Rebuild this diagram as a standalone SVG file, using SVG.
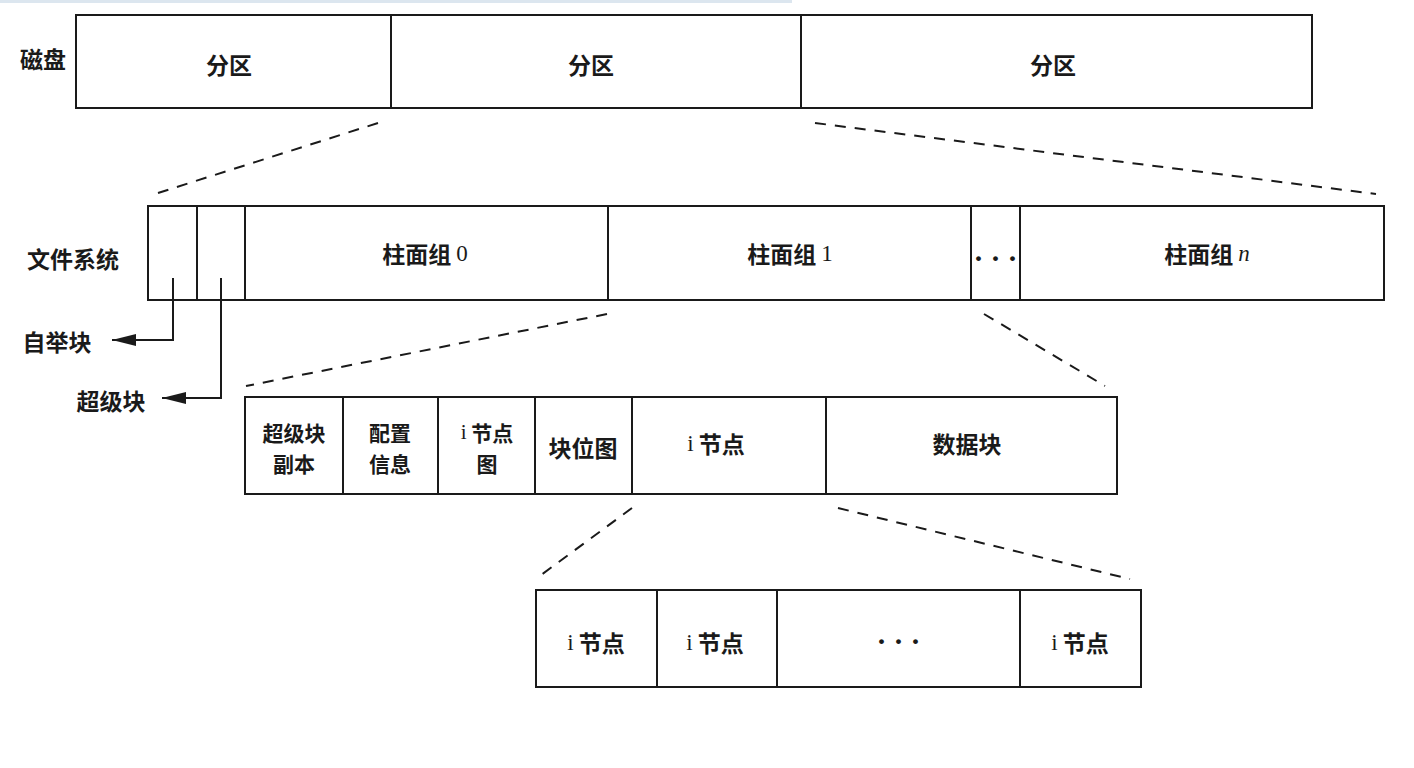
<svg xmlns="http://www.w3.org/2000/svg" width="1414" height="768" viewBox="0 0 1414 768">
<style>
.box{fill:#fff;stroke:#1a1a1a;stroke-width:2}
.div{stroke:#1a1a1a;stroke-width:2}
.dash{stroke:#1a1a1a;stroke-width:2;stroke-dasharray:11 9;fill:none}
.lead{stroke:#1a1a1a;stroke-width:2;fill:none}
.t{font-family:"Noto Sans CJK SC","Noto Sans",sans-serif;font-weight:bold;font-size:23px;fill:#1a1a1a;text-anchor:middle;dominant-baseline:central}
.t2{font-size:21px}
.s{font-family:"Liberation Serif",serif;font-weight:normal}
.dots{font-family:"Liberation Serif",serif;font-weight:bold;font-size:30px;letter-spacing:7px;fill:#1a1a1a;text-anchor:middle;dominant-baseline:central}
</style>
<defs>
<marker id="arr" viewBox="0 0 24 12" refX="24" refY="6" markerWidth="24" markerHeight="12" markerUnits="userSpaceOnUse" orient="auto">
<path d="M0,0 L24,6 L0,12 Z" fill="#1a1a1a"/>
</marker>
</defs>
<rect x="0" y="0" width="792" height="3" fill="#dce6ef"/>

<g id="disk">
<text class="t" x="43" y="58">磁盘</text>
<rect class="box" x="76" y="15" width="1236" height="93"/>
<line class="div" x1="391" y1="15" x2="391" y2="108"/>
<line class="div" x1="801" y1="15" x2="801" y2="108"/>
<text class="t" x="229" y="64">分区</text>
<text class="t" x="591" y="64">分区</text>
<text class="t" x="1053" y="64">分区</text>
</g>

<g id="filesystem">
<text class="t" x="73" y="258">文件系统</text>
<rect class="box" x="148" y="206" width="1236" height="94"/>
<line class="div" x1="197" y1="206" x2="197" y2="300"/>
<line class="div" x1="245" y1="206" x2="245" y2="300"/>
<line class="div" x1="608" y1="206" x2="608" y2="300"/>
<line class="div" x1="971" y1="206" x2="971" y2="300"/>
<line class="div" x1="1020" y1="206" x2="1020" y2="300"/>
<text class="t" x="425" y="253">柱面组 <tspan class="s">0</tspan></text>
<text class="t" x="790" y="253">柱面组 <tspan class="s">1</tspan></text>
<text class="dots" x="999" y="257">···</text>
<text class="t" x="1207" y="253">柱面组 <tspan class="s" font-style="italic">n</tspan></text>
</g>

<g id="bootblock">
<text class="t" x="57" y="341">自举块</text>
</g>
<g id="superblock">
<text class="t" x="111" y="400">超级块</text>
</g>

<g id="cylgroup">
<rect class="box" x="245" y="397" width="872" height="97"/>
<line class="div" x1="343" y1="397" x2="343" y2="494"/>
<line class="div" x1="438" y1="397" x2="438" y2="494"/>
<line class="div" x1="535" y1="397" x2="535" y2="494"/>
<line class="div" x1="632" y1="397" x2="632" y2="494"/>
<line class="div" x1="826" y1="397" x2="826" y2="494"/>
<text class="t t2" x="294" y="432">超级块</text>
<text class="t t2" x="294" y="463">副本</text>
<text class="t t2" x="390" y="432">配置</text>
<text class="t t2" x="390" y="463">信息</text>
<text class="t t2" x="487" y="432"><tspan class="s">i</tspan> 节点</text>
<text class="t t2" x="487" y="463">图</text>
<text class="t" x="583" y="447">块位图</text>
<text class="t" x="716" y="443"><tspan class="s">i</tspan> 节点</text>
<text class="t" x="967" y="443">数据块</text>
</g>

<g id="inodes">
<rect class="box" x="536" y="590" width="605" height="97"/>
<line class="div" x1="657" y1="590" x2="657" y2="687"/>
<line class="div" x1="777" y1="590" x2="777" y2="687"/>
<line class="div" x1="1020" y1="590" x2="1020" y2="687"/>
<text class="t" x="596" y="642"><tspan class="s">i</tspan> 节点</text>
<text class="t" x="715" y="642"><tspan class="s">i</tspan> 节点</text>
<text class="dots" x="902" y="640">···</text>
<text class="t" x="1080" y="642"><tspan class="s">i</tspan> 节点</text>
</g>

<g id="connectors">
<line class="dash" x1="378" y1="123" x2="158" y2="193"/>
<line class="dash" x1="815" y1="123" x2="1376" y2="194"/>
<line class="dash" x1="607" y1="314" x2="246" y2="386"/>
<line class="dash" x1="984" y1="314" x2="1105" y2="386"/>
<line class="dash" x1="632" y1="508" x2="537" y2="578"/>
<line class="dash" x1="838" y1="508" x2="1130" y2="579"/>
<polyline class="lead" points="173,278 173,340 112,340" marker-end="url(#arr)"/>
<polyline class="lead" points="221,278 221,398 162,398" marker-end="url(#arr)"/>
</g>
</svg>
